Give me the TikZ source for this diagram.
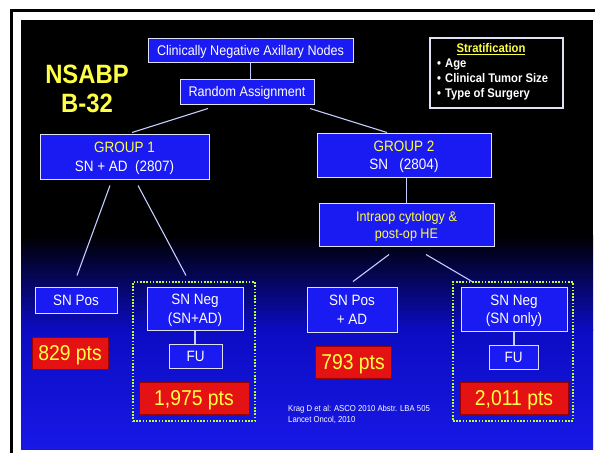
\documentclass[tikz,border=0pt]{standalone}
\usepackage{fontspec}
\setmainfont{Liberation Sans}[FakeStretch=0.9]
\usepackage{tikz}
\usetikzlibrary{calc}

\definecolor{boxblue}{RGB}{26,26,242}
\definecolor{boxedge}{RGB}{225,225,245}
\definecolor{linkcol}{RGB}{195,205,255}
\definecolor{hiyellow}{RGB}{255,255,70}
\definecolor{ptsred}{RGB}{228,18,18}
\definecolor{ptsedge}{RGB}{150,0,0}
\definecolor{framegreen}{RGB}{185,255,60}
\definecolor{slidemid}{RGB}{12,12,195}
\definecolor{slidelow}{RGB}{24,24,230}

\begin{document}
\begin{tikzpicture}[x=1pt, y=1pt,
    bluebox/.style={draw=boxedge, fill=boxblue, line width=1pt, text=white, align=center, inner sep=0pt},
    redbox/.style={draw=ptsedge, fill=ptsred, line width=0.6pt, text=hiyellow, inner sep=0pt, font=\fontsize{21.5}{24}\selectfont, text height=15.4pt, text depth=0pt},
    greenframe/.style={draw=framegreen, line width=1.8pt, dash pattern=on 1.6pt off 1.6pt, inner sep=0pt},
    link/.style={draw=linkcol, line width=1.1pt},
    small/.style={font=\fontsize{14}{17}\selectfont, text height=10pt, text depth=0pt},
    smalltwo/.style={font=\fontsize{14}{17}\selectfont, text height=27pt, text depth=0pt},
    medium/.style={font=\fontsize{15}{18.5}\selectfont, text height=10.7pt, text depth=0pt},
    mediumtwo/.style={font=\fontsize{15}{18.5}\selectfont, text height=29.2pt, text depth=0pt}]
    \useasboundingbox (0,0) rectangle (595,-453);
    \fill[white] (0,0) rectangle (595,-453);
    \fill[black] (10,-9) rectangle (595,-12);
    \fill[black] (10,-9) rectangle (12.5,-453);
    \fill[black] (21,-20) rectangle (593,-236);
    \shade[top color=black, bottom color=slidemid] (21,-235) rectangle (593,-330);
    \shade[top color=slidemid, bottom color=slidelow] (21,-329.5) rectangle (593,-449);

    \draw (87,-89) node[text=hiyellow, align=center, font=\fontsize{26.5}{29}\selectfont\bfseries] (title) {NSABP\\B-32};

    \draw (496.5,-73) node[draw=boxedge, fill=black, line width=1.2pt, minimum width=133pt, minimum height=70pt] (strat) {};
    \draw (491,-49.5) node[text=hiyellow, font=\fontsize{12.5}{15}\selectfont\bfseries] (strattitle) {\underline{Stratification}};
    \draw (437,-80) node[anchor=west, text=white, align=left, inner sep=0pt, font=\fontsize{12.5}{15}\selectfont\bfseries] (stratlist) {\textbullet\hspace{4pt}Age\\\textbullet\hspace{4pt}Clinical Tumor Size\\\textbullet\hspace{4pt}Type of Surgery};

    \draw (250.5,-50) node[bluebox, small, minimum width=205pt, minimum height=24pt] (cnan) {Clinically Negative Axillary Nodes};
    \draw (247,-91.5) node[bluebox, small, minimum width=134pt, minimum height=25pt] (ra) {Random Assignment};
    \draw (124.5,-156.5) node[bluebox, mediumtwo, minimum width=169pt, minimum height=45pt] (g1) {{\color{hiyellow}GROUP 1}\\SN + AD\ \ (2807)};
    \draw (404,-155) node[bluebox, mediumtwo, minimum width=174pt, minimum height=44pt] (g2) {{\color{hiyellow}GROUP 2}\\SN\ \ \ (2804)};
    \draw (406.5,-224.5) node[bluebox, smalltwo, text=hiyellow, minimum width=175pt, minimum height=43pt] (intra) {Intraop cytology \&\\post-op HE};

    \draw (194,-351.5) node[greenframe, minimum width=122pt, minimum height=139pt] (negframe1) {};
    \draw (513,-351.5) node[greenframe, minimum width=120pt, minimum height=139pt] (negframe2) {};

    \draw (76,-300) node[bluebox, medium, minimum width=82pt, minimum height=26pt] (snpos1) {SN Pos};
    \draw (70,-353) node[redbox, minimum width=76pt, minimum height=32pt] (pts1) {829 pts};
    \draw (195,-308.5) node[bluebox, mediumtwo, minimum width=96pt, minimum height=43pt] (snneg1) {SN Neg\\(SN+AD)};
    \draw (195.5,-356) node[bluebox, medium, minimum width=53pt, minimum height=24pt] (fu1) {FU};
    \draw (194,-398) node[redbox, minimum width=110pt, minimum height=32pt] (pts2) {1,975 pts};

    \draw (352,-309.5) node[bluebox, mediumtwo, minimum width=90pt, minimum height=45pt] (snpos2) {SN Pos\\+ AD};
    \draw (353,-362) node[redbox, minimum width=76pt, minimum height=32pt] (pts3) {793 pts};
    \draw (514,-309) node[bluebox, mediumtwo, minimum width=106pt, minimum height=44pt] (snneg2) {SN Neg\\(SN only)};
    \draw (513.5,-357) node[bluebox, medium, minimum width=49pt, minimum height=24pt] (fu2) {FU};
    \draw (514,-398) node[redbox, minimum width=108pt, minimum height=32pt] (pts4) {2,011 pts};

    \draw (288,-414.5) node[anchor=west, text=white, align=left, inner sep=0pt, font=\fontsize{8.6}{11}\selectfont] (cite) {Krag D et al: ASCO 2010 Abstr. LBA 505\\Lancet Oncol, 2010};

    \draw[link] (cnan.south) -- (cnan.south |- ra.north);
    \draw[link] ($(ra.south)+(-39,-4)$) -- ($(g1.north)+(7.5,1)$);
    \draw[link] ($(ra.south)+(63,-4)$) -- ($(g2.north)+(-17,0)$);
    \draw[link] (intra.north |- g2.south) -- (intra.north);
    \draw[link] ($(g1.south)+(-14.5,-6)$) -- ($(snpos1.north)+(1,11)$);
    \draw[link] ($(g1.south)+(13.5,-6)$) -- ($(snneg1.north)+(-9,11)$);
    \draw[link] ($(intra.south)+(-17.5,-8)$) -- ($(snpos2.north)+(1,5)$);
    \draw[link] ($(intra.south)+(19.5,-8)$) -- ($(snneg2.north)+(-42,5)$);
    \draw[link] (snneg1.south) -- (snneg1.south |- fu1.north);
    \draw[link] (snneg2.south) -- (snneg2.south |- fu2.north);
\end{tikzpicture}
\end{document}
